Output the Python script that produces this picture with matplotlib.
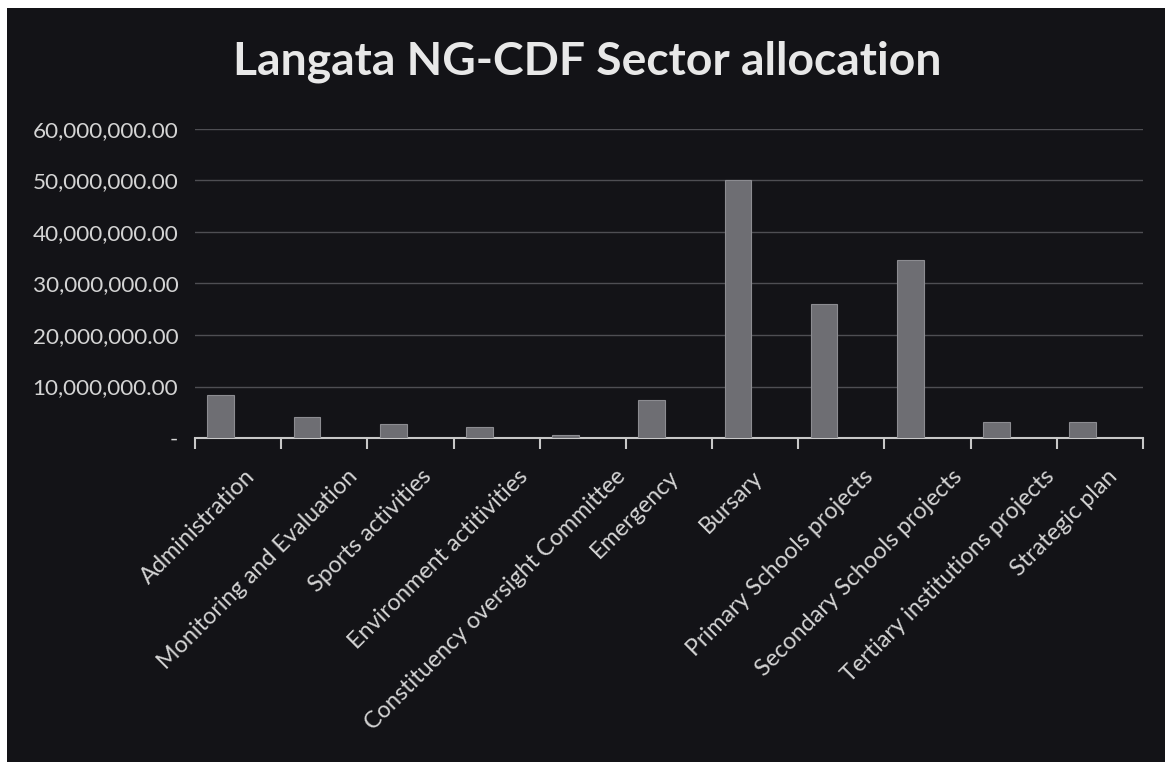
import matplotlib
matplotlib.use("Agg")
import matplotlib.pyplot as plt
import matplotlib.transforms as mtransforms
from matplotlib.ticker import FuncFormatter, FixedLocator

categories = [
    "Administration",
    "Monitoring and Evaluation",
    "Sports activities",
    "Environment actitivities",
    "Constituency oversight Committee",
    "Emergency",
    "Bursary",
    "Primary Schools projects",
    "Secondary Schools projects",
    "Tertiary institutions projects",
    "Strategic plan",
]
allocations = [8.4e6, 4.1e6, 2.8e6, 2.1e6, 0.6e6, 7.3e6, 50.0e6, 26.0e6, 34.6e6, 3.2e6, 3.2e6]
y_ticks = [0, 10e6, 20e6, 30e6, 40e6, 50e6, 60e6]
title = "Langata NG-CDF Sector allocation"

plt.rcParams['font.family'] = ['Lato', 'DejaVu Sans']

W, H = 1165, 762
fig = plt.figure(figsize=(W / 100, H / 100), dpi=100, facecolor="white")

# dark chart background (photo has white margin at top/left)
bg = fig.add_axes([7 / W, -0.01, 1 - 7 / W + 0.01, 1.01 - 8 / H], zorder=-5)
bg.set_axis_off()
bg.add_patch(plt.Rectangle((0, 0), 1, 1, transform=bg.transAxes,
                           facecolor="#131317", edgecolor="none"))

ax = fig.add_axes([195 / W, 1 - 438 / H, (1143 - 195) / W, (438 - 129) / H], zorder=1)
ax.set_facecolor("none")

x = list(range(len(categories)))
# Excel clustered layout: single visible series sits left of the category centre
bar_shift = -0.2
ax.bar([i + bar_shift for i in x], allocations, width=0.31, color="#6e6e73",
       edgecolor="#8c8c91", linewidth=0.8, zorder=3)

ax.set_ylim(0, 60e6)
ax.set_xlim(-0.5, len(categories) - 0.5)
ax.set_yticks(y_ticks)
ax.yaxis.set_major_formatter(FuncFormatter(lambda v, p: "-" if v == 0 else f"{v:,.2f}"))
ax.tick_params(axis="y", length=0, pad=12, labelsize=16.2, labelcolor="#d4d4d4")
ax.grid(axis="y", color="#4e4e53", linewidth=1.0, zorder=1)

ax.set_xticks(x)
ax.set_xticklabels([])
ax.tick_params(axis="x", which="major", length=0)
ax.xaxis.set_minor_locator(FixedLocator([i - 0.5 for i in range(len(categories) + 1)]))
ax.tick_params(axis="x", which="minor", length=8, width=1.5, color="#c8c8c8", direction="out")

# rotated category labels (Excel-like placement: longer labels end further right)
blend = mtransforms.blended_transform_factory(ax.transData, ax.transAxes)
for i, lab in enumerate(categories):
    dx = 1.45 * len(lab) - 14
    off = mtransforms.ScaledTranslation(dx / 100, -28 / 100, fig.dpi_scale_trans)
    ax.text(i, 0, lab, transform=blend + off, rotation=45, rotation_mode="anchor",
            ha="right", va="top", fontsize=16.8, color="#d4d4d4", clip_on=False)

for s in ["top", "right", "left"]:
    ax.spines[s].set_visible(False)
ax.spines["bottom"].set_color("#c8c8c8")
ax.spines["bottom"].set_linewidth(1.5)

fig.text(587 / W, 1 - 62 / H, title, ha="center", va="center", fontsize=33.3,
         fontweight="bold", color="#e8e8e8")

fig.savefig("out.png", dpi=100, facecolor=fig.get_facecolor())
